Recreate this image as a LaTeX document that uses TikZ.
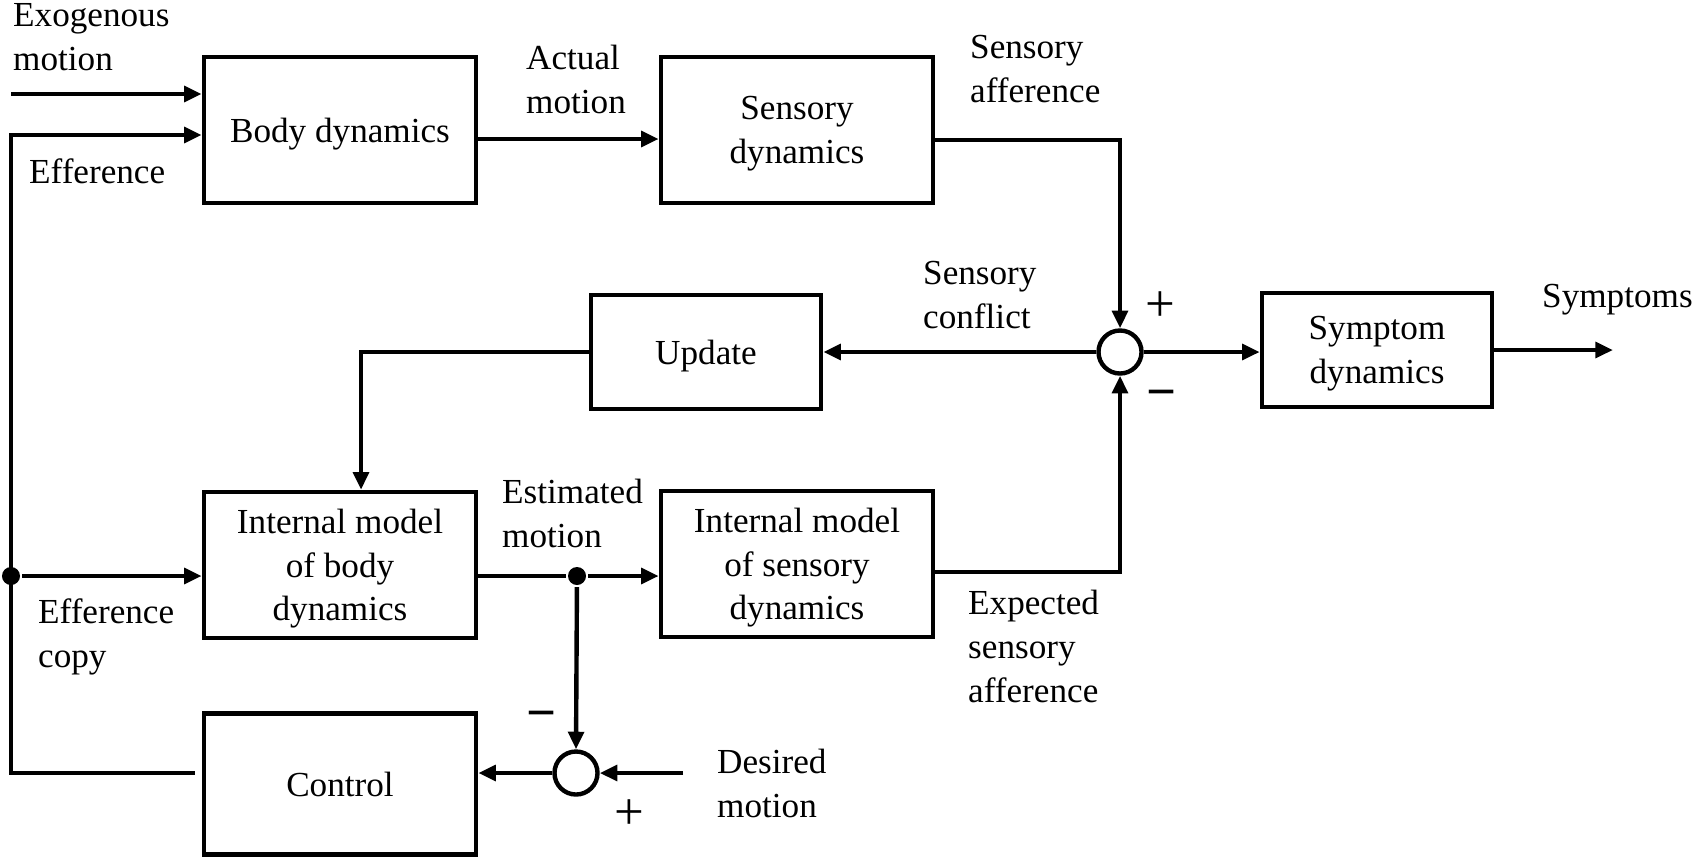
\documentclass[tikz,border=0pt]{standalone}
\usepackage{fontspec}
\setmainfont{Liberation Serif}
\usetikzlibrary{arrows.meta}

\begin{document}
\begin{tikzpicture}[x=0.01cm, y=-0.01cm, line width=1.25pt,
		>={Triangle[length=5pt, width=4.4pt]},
		font=\fontsize{10}{12.4}\selectfont,
		bigbox/.style={draw, align=center, text depth=0pt, minimum width=2.72cm, minimum height=1.46cm, inner sep=0pt},
		smallbox/.style={draw, align=center, text depth=0pt, minimum width=2.30cm, minimum height=1.14cm, inner sep=0pt},
		sumpoint/.style={draw, circle, minimum size=0.43cm, inner sep=0pt},
		joint/.style={fill, circle, minimum size=0.18cm, inner sep=0pt},
		lbl/.style={anchor=base west, align=left, inner sep=0pt},
		sign/.style={inner sep=0pt, font=\fontsize{15}{15}\selectfont}]
		%%%%% START %%%%%
		
		\useasboundingbox (0, 0) rectangle (1692, 860);
		
		\node[bigbox] (body) at (340, 130) {Body dynamics};
		\node[bigbox] (sens) at (797, 130) {Sensory\\dynamics};
		\node[smallbox] (update) at (706, 352) {Update};
		\node[sumpoint] (sum1) at (1120, 352) {};
		\node[smallbox] (sympt) at (1377, 350) {Symptom\\dynamics};
		
		\node[bigbox] (imbody) at (340, 565) {Internal model\\of body\\dynamics};
		\node[bigbox] (imsens) at (797, 564) {Internal model\\of sensory\\dynamics};
		\node[bigbox, minimum height=1.41cm] (control) at (340, 784) {Control};
		\node[sumpoint] (sum2) at (576, 773) {};
		
		\coordinate (exo) at (11, 94);
		\coordinate (bustop) at (11, 135);
		\coordinate (busbot) at (11, 773);
		\node[joint] (busdot) at (11, 576) {};
		\node[joint] (estdot) at (577, 576) {};
		\coordinate (desired) at (683, 773);
		\coordinate (out) at (1613, 350);
		
		% body and sensory path
		\draw[->] (exo) -- (exo -| body.west);
		\draw[->] ([xshift=-0.07cm]control.west |- busbot) -- (busbot) -- (bustop) -- (bustop -| body.west);
		\draw[->] ([yshift=-0.09cm]body.east) -- ([yshift=-0.09cm]sens.west);
		\draw[->] ([yshift=-0.1cm]sens.east) -| (sum1.north);
		
		% conflict and update
		\draw[->] (sum1.west) -- (sum1 -| update.east);
		\draw[->] (update.west) -| ([xshift=0.21cm]imbody.north);
		\draw[->] (sum1.east) -- (sum1 -| sympt.west);
		\draw[->] (sympt.east) -- (out);
		
		% internal model path
		\draw[->] (busdot) -- (busdot -| imbody.west);
		\draw[->] (imbody.east |- estdot) -- (estdot) -- (estdot -| imsens.west);
		\draw[->] ([yshift=-0.08cm]imsens.east) -| (sum1.south);
		\draw[->] (estdot) -- (sum2.north);
		\draw[->] (desired) -- (sum2.east);
		\draw[->] (sum2.west) -- (sum2 -| control.east);
		
		% labels (placed at the baseline of their last line)
		\node[lbl] (lexo) at (11, 70) {Exogenous\\motion};
		\node[lbl] (leff) at (27, 183) {Efference};
		\node[lbl] (lact) at (524, 113) {Actual\\motion};
		\node[lbl] (laff) at (968, 102) {Sensory\\afference};
		\node[lbl] (lconf) at (921, 328) {Sensory\\conflict};
		\node[lbl] (lsym) at (1540, 307) {Symptoms};
		\node[lbl] (lest) at (500, 547) {Estimated\\motion};
		\node[lbl] (lexp) at (966, 702) {Expected\\sensory\\afference};
		\node[lbl] (lcopy) at (36, 667) {Efference\\copy};
		\node[lbl] (ldes) at (715, 817) {Desired\\motion};
		
		\node[sign] (plus1) at (1160, 307) {+};
		\node[sign, font=\fontsize{15}{15}\selectfont\bfseries] (minus1) at (1162, 400) {−};
		\node[sign, font=\fontsize{15}{15}\selectfont\bfseries] (minus2) at (542, 721) {−};
		\node[sign] (plus2) at (629, 815) {+};
		
		%%%%% END %%%%%
\end{tikzpicture}
\end{document}
